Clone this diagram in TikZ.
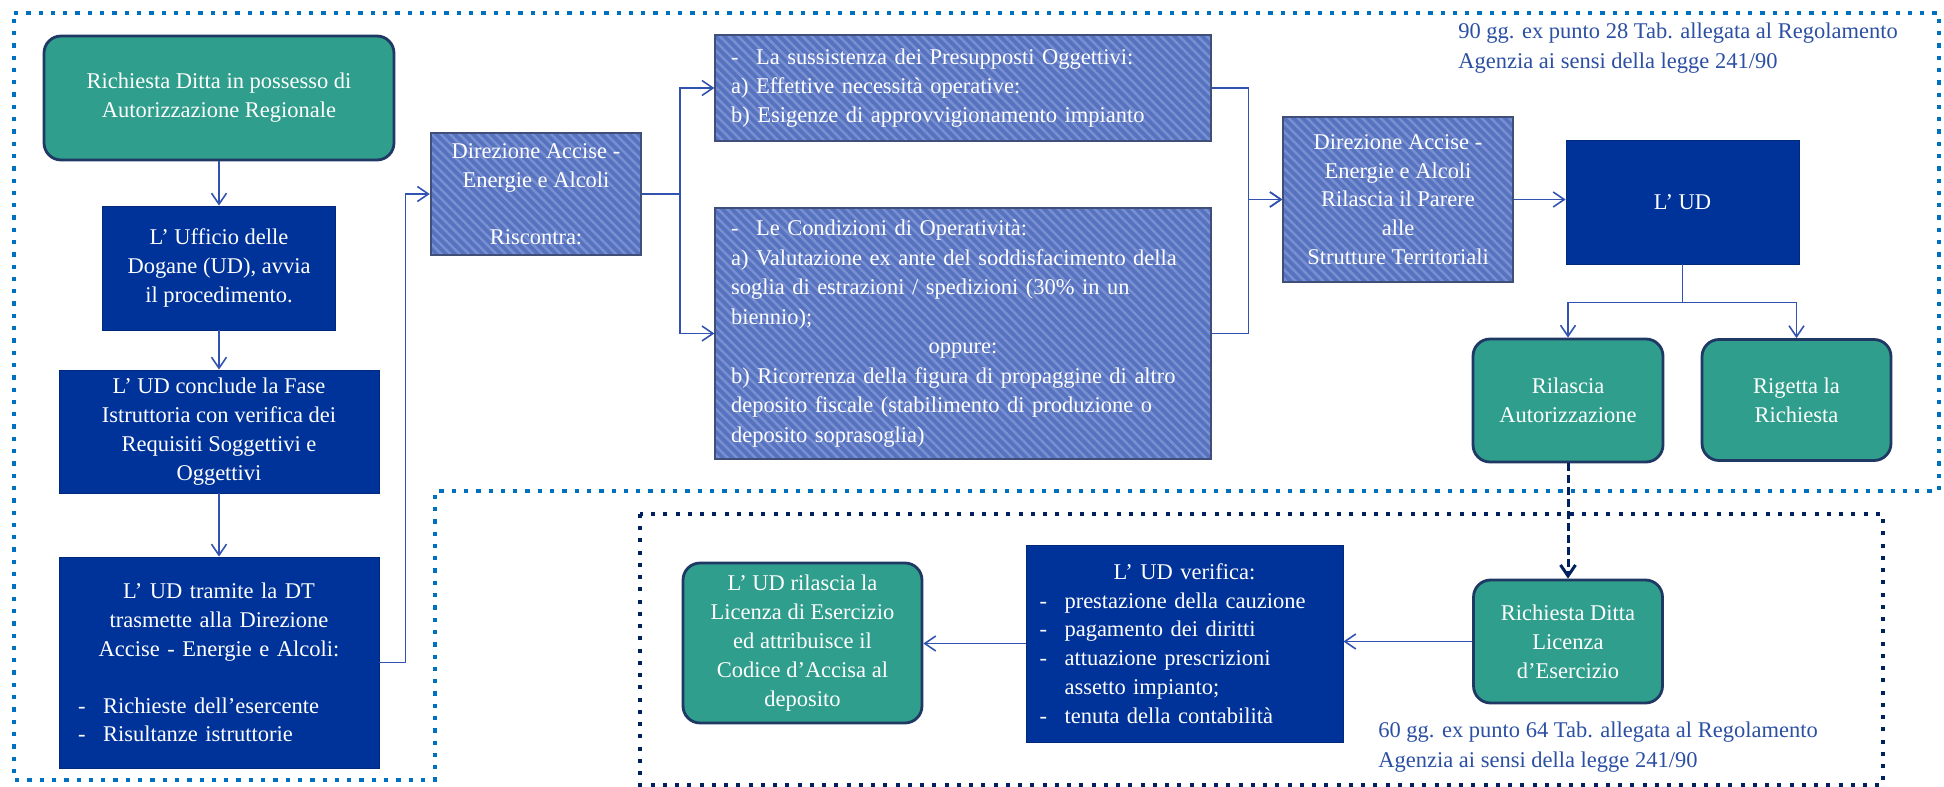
\documentclass[tikz,border=0pt]{standalone}
\usepackage{fontspec}
\setmainfont{Liberation Serif}
\usetikzlibrary{arrows.meta,patterns.meta}

\definecolor{verdeacqua}{HTML}{309E8C}
\definecolor{bordoverde}{HTML}{1F3864}
\definecolor{blunotte}{HTML}{003399}
\definecolor{righebase}{HTML}{5772BE}
\definecolor{righechiare}{HTML}{7890D2}
\definecolor{righebordo}{HTML}{3F4F78}
\definecolor{colfreccia}{HTML}{3152B0}
\definecolor{puntiext}{HTML}{0070C0}
\definecolor{puntiint}{HTML}{002060}
\definecolor{testoblu}{HTML}{2B4FA2}

\newcommand{\bul}{\makebox[0.5cm][l]{-}}

\tikzset{
  testo/.style={font=\fontsize{12.8}{16.4}\selectfont, text=white},
  verde/.style={testo, draw=bordoverde, line width=1.6pt, fill=verdeacqua, rounded corners=0.34cm, align=center, inner sep=2pt},
  blu/.style={testo, draw=blunotte!80!black, line width=0.5pt, fill=blunotte, align=center, inner sep=2pt},
  righe/.style={testo, draw=righebordo, line width=0.8pt, preaction={fill=righebase},
    pattern={Lines[angle=-45,distance=0.13cm,line width=0.05cm]}, pattern color=righechiare, inner sep=2pt},
  freccia/.style={draw=colfreccia, line width=0.9pt, -{Straight Barb[length=0.22cm,width=0.3cm]}},
  tratteggio/.style={freccia, draw=puntiint, line width=0.06cm, dash pattern=on 0.16cm off 0.08cm},
  bordoext/.style={draw=puntiext, line width=0.086cm, dash pattern=on 0.086cm off 0.16cm},
  bordoint/.style={draw=puntiint, line width=0.08cm, dash pattern=on 0.08cm off 0.165cm},
  nota/.style={font=\fontsize{12.8}{17}\selectfont, text=testoblu, align=left, inner sep=0pt}
}

\begin{document}
\begin{tikzpicture}[x=0.02cm,y=-0.02cm]
\useasboundingbox (0,0) rectangle (1944,787);

% riquadri punteggiati
\draw[bordoext] (14,13) -- (1939,13) -- (1939,491) -- (435,491) -- (435,780) -- (14,780) -- cycle;
\draw[bordoint] (640,514) rectangle (1883,785);

% colonna di sinistra
\node[verde, minimum width=7cm, minimum height=2.48cm] (richiesta) at (219,98) {Richiesta Ditta in possesso di\\Autorizzazione Regionale};
\node[blu, minimum width=4.66cm, minimum height=2.48cm] (ufficio) at (219,268) {L’ Ufficio delle\\Dogane (UD), avvia\\il procedimento.};
\node[blu, minimum width=6.4cm, minimum height=2.46cm] (istruttoria) at (219,431.5) {L’ UD conclude la Fase\\Istruttoria con verifica dei\\Requisiti Soggettivi e\\Oggettivi};
\node[blu, text width=5.64cm, inner xsep=0.38cm, minimum height=4.22cm] (trasmette) at (219,662.5) {L’ UD tramite la DT\\trasmette alla Direzione\\Accise - Energie e Alcoli:\par
  \vspace{16pt}
  {\raggedright \bul Richieste dell’esercente\\ \bul Risultanze istruttorie\par}};

% parere della Direzione
\node[righe, minimum width=4.2cm, minimum height=2.44cm, align=center] (direzione) at (536,194) {Direzione Accise -\\Energie e Alcoli\\[16pt]Riscontra:};
\node[righe, text width=9.28cm, inner xsep=0.32cm, minimum height=2.12cm, align=left] (presupposti) at (963,88) {\bul La sussistenza dei Presupposti Oggettivi:\\a) Effettive necessità operative:\\b) Esigenze di approvvigionamento impianto};
\node[righe, text width=9.28cm, inner xsep=0.32cm, minimum height=5.02cm, align=left, font=\fontsize{12.8}{16.8}\selectfont] (condizioni) at (963,333.5) {\bul Le Condizioni di Operatività:\\a) Valutazione ex ante del soddisfacimento della\\soglia di estrazioni / spedizioni (30\% in un\\biennio);\par
  {\centering oppure:\par}
  b) Ricorrenza della figura di propaggine di altro\\deposito fiscale (stabilimento di produzione o\\deposito soprasoglia)};
\node[righe, minimum width=4.6cm, minimum height=3.3cm, align=center] (parere) at (1398,199.5) {Direzione Accise -\\Energie e Alcoli\\Rilascia il Parere\\alle\\Strutture Territoriali};

% decisione dell'UD
\node[blu, minimum width=4.66cm, minimum height=2.48cm] (ud) at (1682.5,202) {L’ UD};
\node[verde, minimum width=3.8cm, minimum height=2.46cm] (autorizza) at (1568,400.5) {Rilascia\\Autorizzazione};
\node[verde, minimum width=3.78cm, minimum height=2.42cm] (rigetta) at (1796.5,400) {Rigetta la\\Richiesta};

% licenza di esercizio
\node[verde, minimum width=3.78cm, minimum height=2.46cm] (licenza) at (1568,641.5) {Richiesta Ditta\\Licenza\\d’Esercizio};
\node[blu, text width=5.8cm, inner xsep=0.27cm, minimum height=3.94cm, align=left] (verifica) at (1184.5,643.5) {{\centering L’ UD verifica:\par}
  \bul prestazione della cauzione\\ \bul pagamento dei diritti\\ \bul attuazione prescrizioni\\ \hspace*{0.5cm}assetto impianto;\\ \bul tenuta della contabilità};
\node[verde, minimum width=4.78cm, minimum height=3.2cm] (codice) at (802.5,643) {L’ UD rilascia la\\Licenza di Esercizio\\ed attribuisce il\\Codice d’Accisa al\\deposito};

% note sui termini
\node[nota, anchor=west] (nota90) at (1458,48) {90 gg. ex punto 28 Tab. allegata al Regolamento\\Agenzia ai sensi della legge 241/90};
\node[nota, anchor=west] (nota60) at (1378,747.5) {60 gg. ex punto 64 Tab. allegata al Regolamento\\Agenzia ai sensi della legge 241/90};

% collegamenti
\draw[freccia] (richiesta) -- (ufficio);
\draw[freccia] (ufficio) -- (istruttoria);
\draw[freccia] (istruttoria) -- (trasmette);
\draw[freccia] (trasmette.east) -- ++(26,0) |- (direzione.west);
\draw[freccia] (direzione.east) -- ++(38,0) |- (presupposti.west);
\draw[freccia] (direzione.east) -- ++(38,0) |- (condizioni.west);
\draw[freccia] (presupposti.east) -- ++(37,0) |- (parere.west);
\draw[freccia] (condizioni.east) -- ++(37,0) |- (parere.west);
\draw[freccia] (parere.east) -- (parere.east -| ud.west);
\draw[freccia] (ud.south) -- ++(0,38) -| (autorizza.north);
\draw[freccia] (ud.south) -- ++(0,38) -| (rigetta.north);
\draw[tratteggio] (autorizza.south) -- (licenza.north);
\draw[freccia] (licenza.west) -- (licenza.west -| verifica.east);
\draw[freccia] (verifica.west) -- (verifica.west -| codice.east);

\end{tikzpicture}
\end{document}
